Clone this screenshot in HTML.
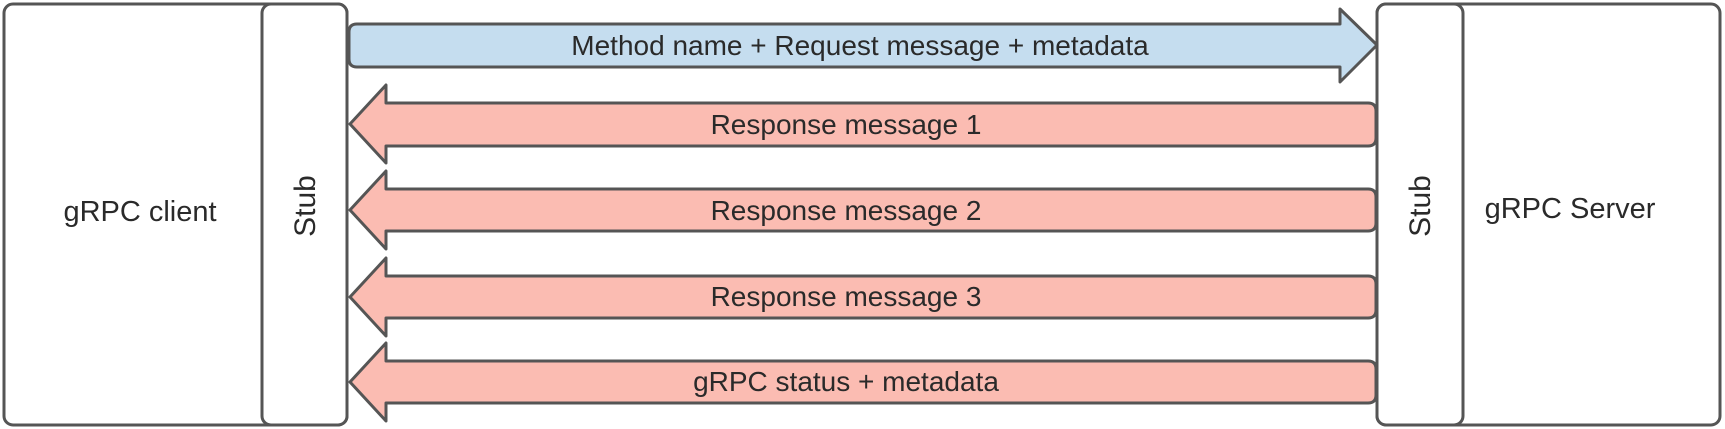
<!DOCTYPE html>
<html><head><meta charset="utf-8"><style>
html,body{margin:0;padding:0;background:#fff;}
svg{display:block;}
text{font-family:"Liberation Sans",Arial,sans-serif;fill:#2a2a2a;}
</style></head><body>
<svg width="1725" height="429" viewBox="0 0 1725 429" xmlns="http://www.w3.org/2000/svg">
<g stroke="#555" stroke-width="3" stroke-linejoin="round">
  <rect x="4" y="4" width="343" height="421" rx="9" fill="#fff"/>
  <rect x="262" y="4" width="85" height="421" rx="9" fill="#fff"/>
  <rect x="1377" y="4" width="343" height="421" rx="9" fill="#fff"/>
  <rect x="1377" y="4" width="86" height="421" rx="9" fill="#fff"/>
  <path d="M357,24 L1340,24 L1340,9 L1377,45 L1340,82 L1340,67 L357,67 Q349,67 349,59 L349,32 Q349,24 357,24 Z" fill="#c5ddef"/>
  <path d="M1368,103 Q1376,103 1376,111 L1376,138 Q1376,146 1368,146 L386,146 L386,163 L350,124 L386,85 L386,103 Z" fill="#fbbcb2"/>
  <path d="M1368,189 Q1376,189 1376,197 L1376,223 Q1376,231 1368,231 L386,231 L386,249 L350,210 L386,171 L386,189 Z" fill="#fbbcb2"/>
  <path d="M1368,276 Q1376,276 1376,284 L1376,310 Q1376,318 1368,318 L386,318 L386,336 L350,297 L386,258 L386,276 Z" fill="#fbbcb2"/>
  <path d="M1368,361 Q1376,361 1376,369 L1376,395 Q1376,403 1368,403 L386,403 L386,421 L350,382 L386,343 L386,361 Z" fill="#fbbcb2"/>
</g>
<text x="860" y="55" font-size="28" text-anchor="middle">Method name + Request message + metadata</text>
<text x="846" y="134" font-size="28" text-anchor="middle">Response message 1</text>
<text x="846" y="220" font-size="28" text-anchor="middle">Response message 2</text>
<text x="846" y="306" font-size="28" text-anchor="middle">Response message 3</text>
<text x="846" y="391" font-size="28" text-anchor="middle">gRPC status + metadata</text>
<text x="140" y="221" font-size="29" text-anchor="middle">gRPC client</text>
<text x="1570" y="218" font-size="29" text-anchor="middle">gRPC Server</text>
<text transform="translate(315,206) rotate(-90)" font-size="30" text-anchor="middle">Stub</text>
<text transform="translate(1430,206) rotate(-90)" font-size="30" text-anchor="middle">Stub</text>
</svg>
</body></html>
